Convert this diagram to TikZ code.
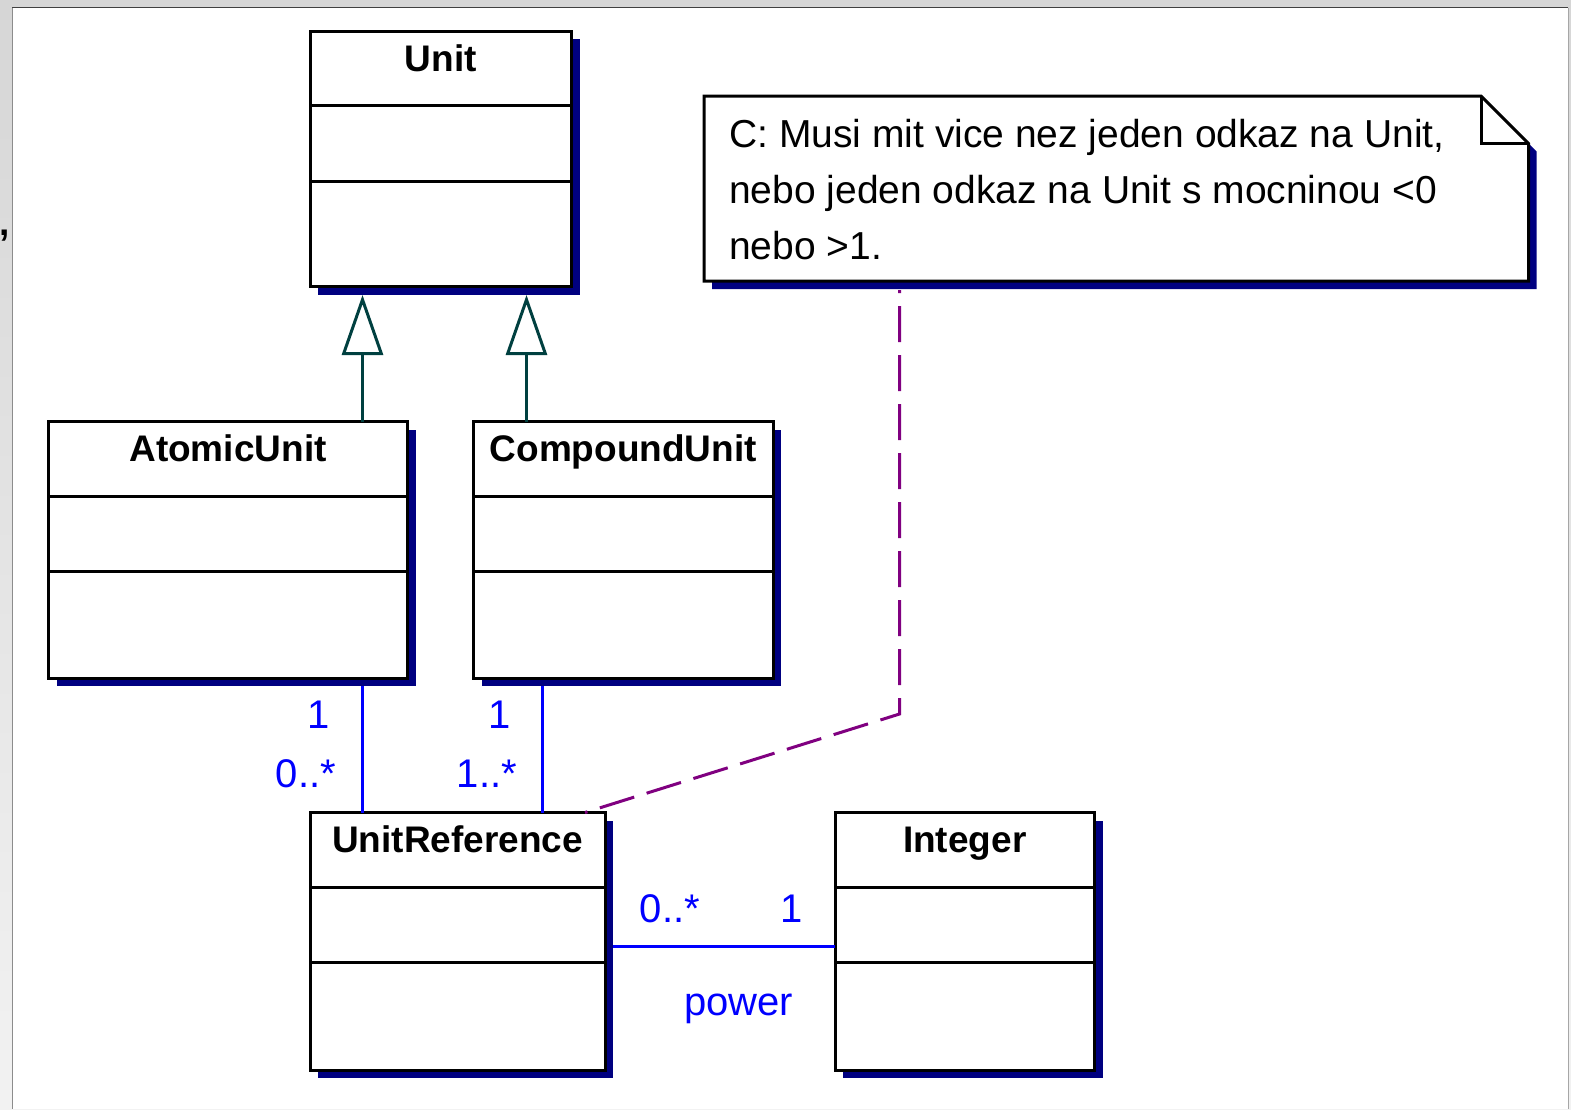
\documentclass[tikz,border=0pt]{standalone}
\usepackage{fontspec}
\setmainfont{Liberation Sans}
\usetikzlibrary{arrows.meta,fit,calc}
\definecolor{shadowc}{HTML}{000080}
\definecolor{genc}{HTML}{004040}
\definecolor{assocc}{HTML}{0000FF}
\definecolor{notec}{HTML}{800080}
\definecolor{bgtop}{HTML}{D6D6D6}
\definecolor{bgbot}{HTML}{F2F2F2}
\tikzset{
  clsbox/.style={draw=black, line width=3pt, fill=white, inner sep=0pt, outer sep=0pt},
  clsline/.style={draw=black, line width=3pt},
  clstitle/.style={font=\fontsize{37}{40}\selectfont\bfseries, anchor=base, inner sep=0pt},
  mult/.style={font=\fontsize{40}{44}\selectfont, text=assocc, anchor=base, inner sep=0pt},
  notetext/.style={font=\fontsize{39}{56}\selectfont, anchor=base west, inner sep=0pt},
  genl/.style={draw=genc, line width=3pt, -{Triangle[open, length=60pt, width=41pt]}},
  assoc/.style={draw=assocc, line width=3pt},
  notel/.style={draw=notec, line width=3pt, dash pattern=on 36pt off 13pt, dash phase=33pt},
}
\newcommand{\umlcls}[6]{%
  \fill[shadowc] ({#2+8},{#3+8}) rectangle ({#4+8},{#5+8});
  \node[clsbox, fit={(#2,#3) (#4,#5)}] (#1) {};
  \draw[clsline] ([yshift=-74.5pt]#1.north west) -- ([yshift=-74.5pt]#1.north east);
  \draw[clsline] ([yshift=-150pt]#1.north west) -- ([yshift=-150pt]#1.north east);
  \node[clstitle] (#1-t) at ({(#2+#4)/2},{#3+40}) {#6};
}
\begin{document}
\begin{tikzpicture}[x=1pt,y=-1pt]
\useasboundingbox (0,0) rectangle (1571,1109);
% window frame
\shade[top color=bgtop, bottom color=bgbot] (0,0) rectangle (1571,1109);
\fill[white] (13,8) rectangle (1568,1109);
\draw[line width=1.5pt, color=black!75] (12,7.5) -- (1568,7.5);
\draw[line width=1.5pt, color=black!45] (12.5,7.5) -- (12.5,1109);
\draw[line width=1.5pt, color=black!35] (1568.5,7.5) -- (1568.5,1109);
\node[font=\fontsize{37}{40}\selectfont\bfseries, anchor=base west, inner sep=0pt] (comma) at (-1,235) {,};

% classes
\umlcls{unit}{310}{31}{571.5}{286.5}{Unit}
\umlcls{atomic}{48.5}{421.5}{407.5}{678}{AtomicUnit}
\umlcls{compound}{473.5}{421.5}{773}{678}{CompoundUnit}
\umlcls{uref}{310}{812.5}{605}{1070}{UnitReference}
\umlcls{integer}{835}{812.5}{1094.5}{1070}{Integer}

% note
\fill[shadowc] (712,104) -- (1489,104) -- (1536.5,151.5) -- (1536.5,289) -- (712,289) -- cycle;
\node[inner sep=0pt, outer sep=0pt, fit={(704,96) (1528.5,281)}] (note) {};
\filldraw[fill=white, draw=black, line width=3pt, line join=miter]
  (note.north west) -- (1481,96) -- (1528.5,143.5) -- (note.south east) -- (note.south west) -- cycle;
\draw[black, line width=3pt] (1481,96) -- (1481,143.5) -- (1528.5,143.5);
\node[notetext] (note1) at (729,147) {C: Musi mit vice nez jeden odkaz na Unit,};
\node[notetext] (note2) at (729,203) {nebo jeden odkaz na Unit s mocninou <0};
\node[notetext] (note3) at (729,259) {nebo >1.};

% connector x/y references
\coordinate (g1) at (362.5,0);
\coordinate (g2) at (526.5,0);
\coordinate (a1) at (362.5,0);
\coordinate (a2) at (542.5,0);
\coordinate (h) at (0,946.5);
\coordinate (n1) at (899.5,0);
\coordinate (nb) at (899.5,714);
\coordinate (ne) at (585,0);

% generalizations
\draw[genl] (atomic.north -| g1) -- ($(unit.south -| g1)+(0,8.5)$);
\draw[genl] (compound.north -| g2) -- ($(unit.south -| g2)+(0,8.5)$);

% associations
\draw[assoc] ($(atomic.south -| a1)+(0,8)$) -- (uref.north -| a1);
\draw[assoc] ($(compound.south -| a2)+(0,8)$) -- (uref.north -| a2);
\draw[assoc] ($(uref.east |- h)+(8,0)$) -- (integer.west |- h);

\node[mult] (m1) at (319,728) {1};
\node[mult] (m2) at (306,787) {0..*};
\node[mult] (m3) at (500,728) {1};
\node[mult] (m4) at (487,787) {1..*};
\node[mult] (m5) at (670,922) {0..*};
\node[mult] (m6) at (792,922) {1};
\node[mult] (m7) at (738.5,1015) {power};

% note link
\draw[notel] ($(note.south -| n1)+(0,9)$) -- (nb) -- (uref.north -| ne);
\end{tikzpicture}
\end{document}
